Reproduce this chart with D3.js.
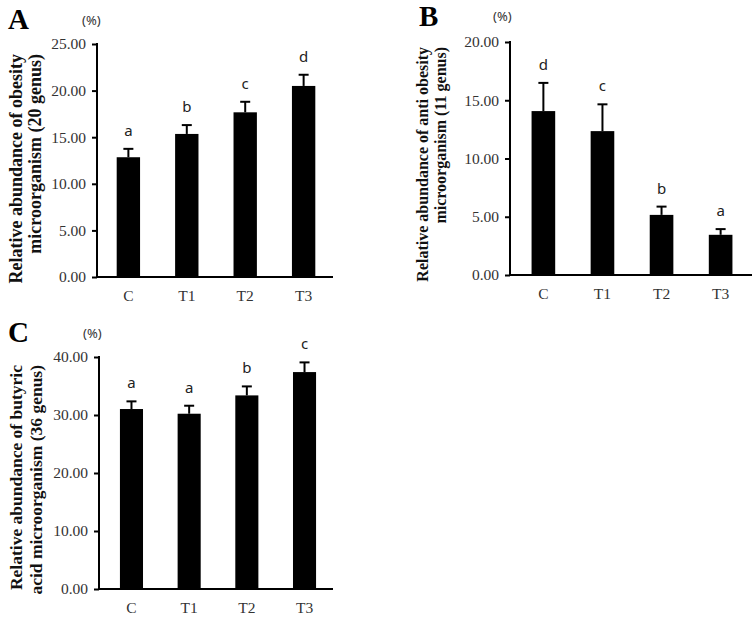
<!DOCTYPE html>
<html>
<head>
<meta charset="utf-8">
<script src="https://cdn.jsdelivr.net/npm/d3@7/dist/d3.min.js"></script>
<style>
  html, body { margin: 0; padding: 0; background: #fff; }
  svg { display: block; }
</style>
</head>
<body>
<svg id="chart" width="752" height="619"></svg>
<script>
// ---- data ----
const categories = ["C", "T1", "T2", "T3"];

const obesityValues  = [12.85, 15.35, 17.67, 20.50];
const obesityErrors  = [0.90, 0.95, 1.13, 1.20];
const obesityLetters = ["a", "b", "c", "d"];
const obesityTicks   = [0, 5, 10, 15, 20, 25];

const antiValues  = [14.07, 12.35, 5.16, 3.45];
const antiErrors  = [2.42, 2.30, 0.71, 0.49];
const antiLetters = ["d", "c", "b", "a"];
const antiTicks   = [0, 5, 10, 15, 20];

const butyricValues  = [31.03, 30.22, 33.38, 37.40];
const butyricErrors  = [1.32, 1.38, 1.55, 1.67];
const butyricLetters = ["a", "a", "b", "c"];
const butyricTicks   = [0, 10, 20, 30, 40];

const panelLabels = ["A", "B", "C"];
const yTitles = [
  ["Relative abundance of obesity", "microorganism (20 genus)"],
  ["Relative abundance of anti obesity", "microorganism (11 genus)"],
  ["Relative abundance of butyric", "acid microorganism (36 genus)"]
];
const unitLabel = "(%)";

// ---- layout ----
const panels = [
  { values: obesityValues, errors: obesityErrors, letters: obesityLetters, ticks: obesityTicks,
    label: panelLabels[0], title: yTitles[0],
    axisX: 97, right: 333, y0: 277, yTop: 44, bandStart: 98, bandEnd: 334, po: 0.32,
    labelX: 8, labelY: 29, unitX: 82, unitY: 25, titleX: 22, titleTop: 54, titleSize: 18, titleGap: 18.5 },
  { values: antiValues, errors: antiErrors, letters: antiLetters, ticks: antiTicks,
    label: panelLabels[1], title: yTitles[1],
    axisX: 510, right: 752, y0: 275, yTop: 42, bandStart: 510, bandEnd: 754, po: 0.365,
    labelX: 419, labelY: 26, unitX: 493, unitY: 21, titleX: 428, titleTop: 47, titleSize: 16, titleGap: 18 },
  { values: butyricValues, errors: butyricErrors, letters: butyricLetters, ticks: butyricTicks,
    label: panelLabels[2], title: yTitles[2],
    axisX: 99, right: 333, y0: 589, yTop: 357, bandStart: 99, bandEnd: 337, po: 0.363,
    labelX: 8, labelY: 342, unitX: 83, unitY: 338, titleX: 22, titleTop: 365, titleSize: 17.5, titleGap: 19.5 }
];

const svg = d3.select("#chart");
const serif = "'Liberation Serif', 'Times New Roman', serif";
const sans = "'Noto Sans', 'DejaVu Sans', sans-serif";

panels.forEach(p => {
  const g = svg.append("g");
  const x = d3.scaleBand().domain(categories)
    .range([p.bandStart, p.bandEnd]).paddingInner(0.6).paddingOuter(p.po);
  const maxTick = p.ticks[p.ticks.length - 1];
  const y = d3.scaleLinear().domain([0, maxTick]).range([p.y0, p.yTop]);

  const data = categories.map((c, i) => ({ c, v: p.values[i], e: p.errors[i], l: p.letters[i] }));

  // bars
  g.selectAll("rect.bar").data(data).join("rect")
    .attr("class", "bar")
    .attr("x", d => x(d.c))
    .attr("width", x.bandwidth())
    .attr("y", d => y(d.v))
    .attr("height", d => y(0) - y(d.v))
    .attr("fill", "#000");

  // error bars (upper only)
  const capW = 10;
  g.selectAll("line.err").data(data).join("line")
    .attr("class", "err")
    .attr("x1", d => x(d.c) + x.bandwidth() / 2)
    .attr("x2", d => x(d.c) + x.bandwidth() / 2)
    .attr("y1", d => y(d.v))
    .attr("y2", d => y(d.v + d.e))
    .attr("stroke", "#000").attr("stroke-width", 2);
  g.selectAll("line.cap").data(data).join("line")
    .attr("class", "cap")
    .attr("x1", d => x(d.c) + x.bandwidth() / 2 - capW / 2)
    .attr("x2", d => x(d.c) + x.bandwidth() / 2 + capW / 2)
    .attr("y1", d => y(d.v + d.e))
    .attr("y2", d => y(d.v + d.e))
    .attr("stroke", "#000").attr("stroke-width", 2);

  // significance letters
  g.selectAll("text.sig").data(data).join("text")
    .attr("class", "sig")
    .attr("x", d => x(d.c) + x.bandwidth() / 2)
    .attr("y", d => y(d.v + d.e) - 13)
    .attr("text-anchor", "middle")
    .attr("font-family", sans)
    .attr("font-size", 15)
    .attr("fill", "#222")
    .text(d => d.l);

  // y axis
  const yAxis = d3.axisLeft(y).tickValues(p.ticks).tickFormat(d3.format(".2f"))
    .tickSize(5).tickPadding(6);
  const ya = g.append("g").attr("transform", `translate(${p.axisX},0)`).call(yAxis);
  ya.select(".domain").remove();
  ya.selectAll(".tick line").attr("stroke", "#000").attr("stroke-width", 2);
  ya.selectAll(".tick text").attr("font-family", serif).attr("font-size", 15.5).attr("fill", "#333");
  g.append("line")
    .attr("x1", p.axisX).attr("x2", p.axisX)
    .attr("y1", y(maxTick) - 1).attr("y2", p.y0 + 1)
    .attr("stroke", "#000").attr("stroke-width", 2);

  // x axis
  const xAxis = d3.axisBottom(x).tickSize(0).tickPadding(0);
  const xa = g.append("g").attr("transform", `translate(0,${p.y0})`).call(xAxis);
  xa.select(".domain").remove();
  xa.selectAll(".tick text")
    .attr("dy", null).attr("y", 24)
    .attr("font-family", serif).attr("font-size", 15.5).attr("fill", "#333");
  g.append("line")
    .attr("x1", p.axisX - 1).attr("x2", p.right)
    .attr("y1", p.y0).attr("y2", p.y0)
    .attr("stroke", "#000").attr("stroke-width", 2);

  // panel label
  g.append("text")
    .attr("x", p.labelX).attr("y", p.labelY)
    .attr("font-family", serif).attr("font-weight", "bold").attr("font-size", 29)
    .attr("fill", "#000").text(p.label);

  // unit label
  g.append("text")
    .attr("x", p.unitX).attr("y", p.unitY)
    .attr("font-family", sans).attr("font-size", 13).attr("fill", "#333")
    .text(unitLabel);

  // y title (two lines, rotated)
  p.title.forEach((line, i) => {
    g.append("text")
      .attr("transform", `translate(${p.titleX + i * p.titleGap},${p.titleTop}) rotate(-90)`)
      .attr("text-anchor", "end")
      .attr("font-family", serif).attr("font-weight", "bold").attr("font-size", p.titleSize)
      .attr("fill", "#111")
      .text(line);
  });
});
</script>
</body>
</html>
